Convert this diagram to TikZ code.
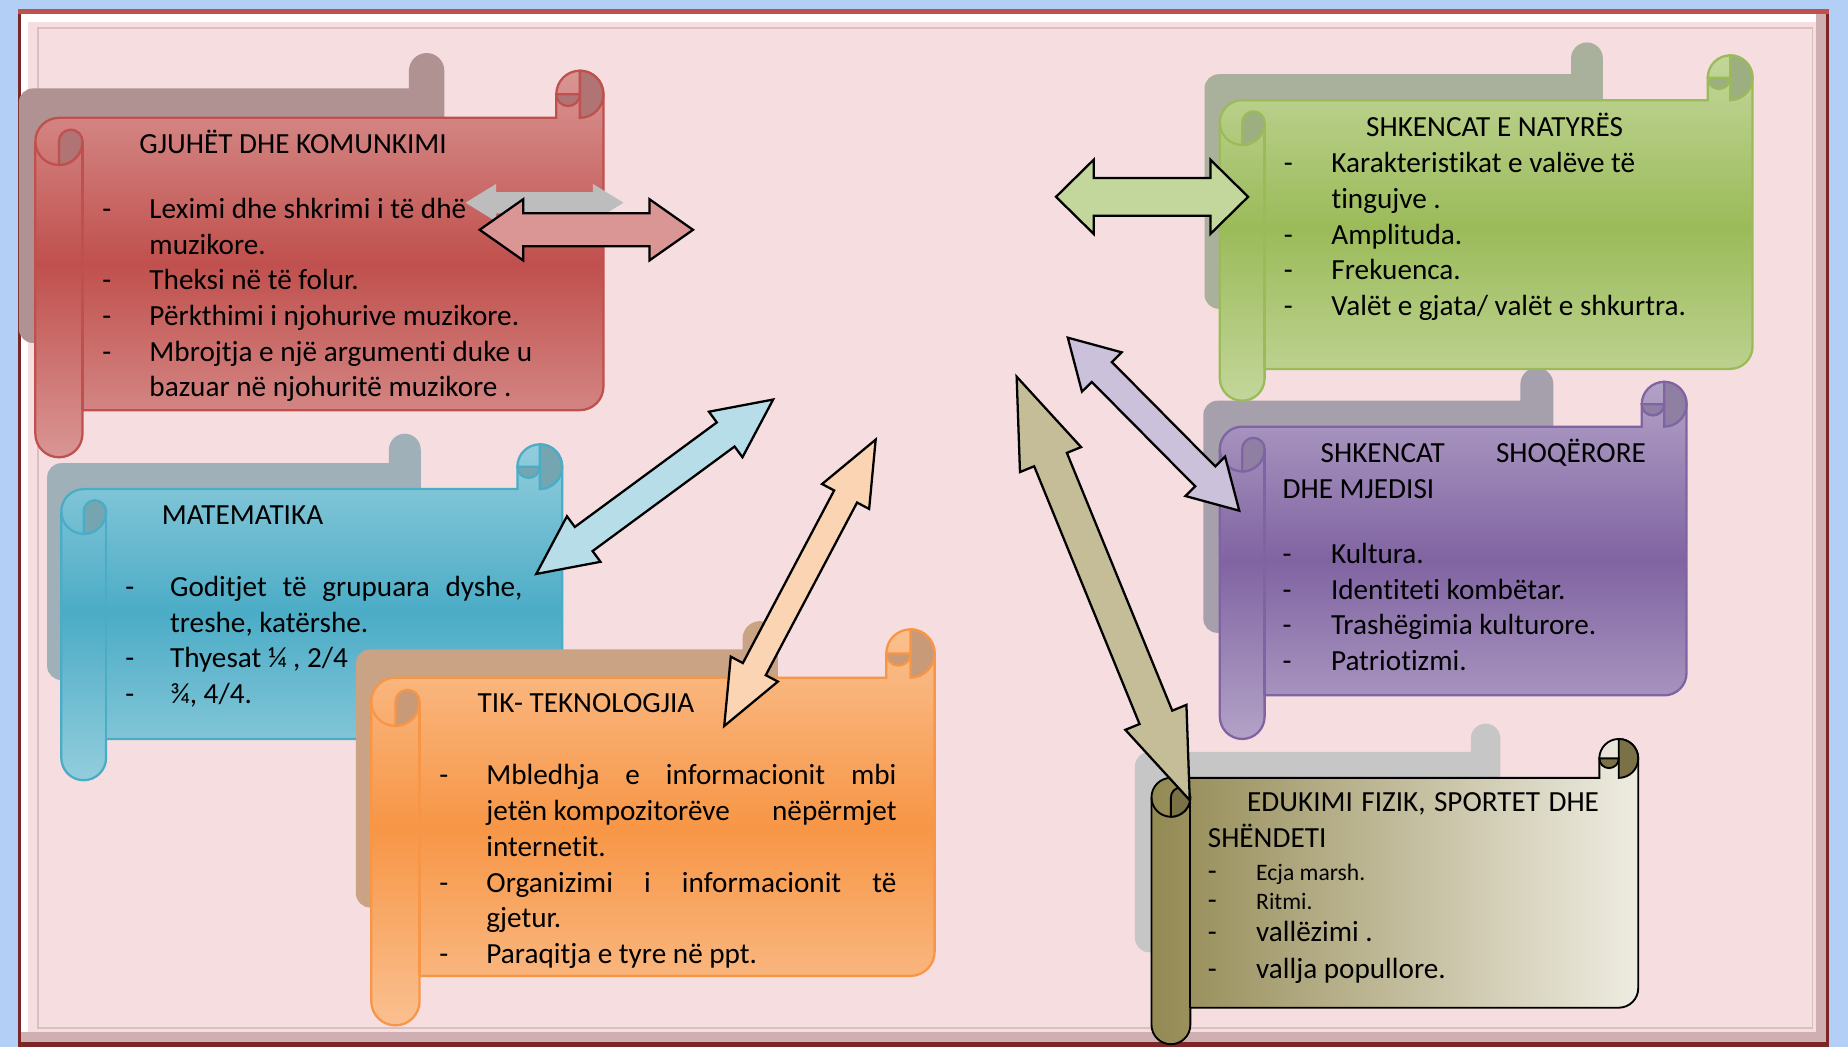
\documentclass[tikz,border=0pt]{standalone}
\usepackage{fontspec}
\setmainfont{Carlito}[Ligatures={NoCommon,NoContextual}]
\usetikzlibrary{calc}

\definecolor{glowblue}{HTML}{B3CFF5}
\definecolor{bgpink}{HTML}{F5DDE0}
\definecolor{framedark}{HTML}{7B2727}
\definecolor{framered}{HTML}{C0504D}
\definecolor{innerline}{HTML}{D9BFBF}
\definecolor{bevelgray}{HTML}{CFAFB2}
\definecolor{redline}{HTML}{C0504D}
\definecolor{redlight}{HTML}{D99694}
\definecolor{redcurl}{HTML}{B07474}
\definecolor{redshade}{HTML}{B09292}
\definecolor{blueline}{HTML}{4BACC6}
\definecolor{bluelight}{HTML}{93CDDD}
\definecolor{bluecurl}{HTML}{74A5B0}
\definecolor{blueshade}{HTML}{9FB0B8}
\definecolor{orangeline}{HTML}{F79646}
\definecolor{orangelight}{HTML}{FAC090}
\definecolor{orangecurl}{HTML}{C89A78}
\definecolor{orangeshade}{HTML}{C9A384}
\definecolor{greenline}{HTML}{9BBB59}
\definecolor{greenlight}{HTML}{C3D69B}
\definecolor{greencurl}{HTML}{9DAF80}
\definecolor{greenshade}{HTML}{A9B19C}
\definecolor{purpleline}{HTML}{8064A2}
\definecolor{purplelight}{HTML}{B3A2C7}
\definecolor{purplecurl}{HTML}{8F80A3}
\definecolor{purpleshade}{HTML}{A6A0AC}
\definecolor{olivedark}{HTML}{938953}
\definecolor{olivelight}{HTML}{EEECE1}
\definecolor{olivecurl}{HTML}{7A7246}
\definecolor{oliveshade}{HTML}{C6C6C6}
\definecolor{arrowred}{HTML}{D99694}
\definecolor{arrowgreen}{HTML}{C3D69B}
\definecolor{arrowblue}{HTML}{B7DEE8}
\definecolor{arrowpeach}{HTML}{FBD4B4}
\definecolor{arrowlilac}{HTML}{CCC1DA}
\definecolor{arrowolive}{HTML}{C4BD97}
\definecolor{arrowshade}{HTML}{BDBDBD}

\newcommand\smallfont{\fontsize{11.4}{14}\selectfont}

% scroll: style prefix, left, top, right, body bottom, tube bottom, tube width
\newcommand\drawscroll[7]{%
  \pgfmathsetmacro\scrr{#7/2}
  \shade[#1 body] (#4-#7,#3) -- (#2+\scrr,#3) arc[start angle=270,end angle=180,radius=\scrr]
    -- (#2,#6-\scrr) arc[start angle=180,end angle=0,radius=\scrr] -- (#2+#7,#5)
    -- (#4-\scrr,#5) arc[start angle=90,end angle=0,radius=\scrr]
    -- (#4,#3-\scrr) arc[start angle=0,end angle=-180,radius=\scrr] -- cycle;
  \draw[#1 line] (#2+#7,#3+\scrr) -- (#2+#7,#5);
  \draw[#1 line] (#2,#3+\scrr) arc[start angle=180,end angle=0,radius=\scrr];
  \filldraw[#1 curl] (#2+\scrr,#3+#7) arc[start angle=90,end angle=0,radius=\scrr]
    arc[start angle=0,end angle=-180,radius=\scrr/2] -- cycle;
  \filldraw[#1 curl] (#4-\scrr,#3-#7) arc[start angle=-90,end angle=90,radius=\scrr] -- cycle;
  \filldraw[#1 curl] (#4-\scrr,#3-\scrr) arc[start angle=0,end angle=180,radius=\scrr/2] -- cycle;
}

% shadow: colour, left, top, right, bottom, tab left, tab top
\newcommand\drawshadow[7]{%
  \pgfmathsetmacro\shdr{(#4-#6)/2}
  \fill[#1] (#6,#7+\shdr) arc[start angle=180,end angle=360,radius=\shdr] -- (#4,#5)
    -- (#2+12,#5) arc[start angle=90,end angle=180,radius=12]
    -- (#2,#3+12) arc[start angle=180,end angle=270,radius=12] -- (#6,#3) -- cycle;
}

% double block arrow: style, tip, tip, shaft half width, head half width, head length
\newcommand\dblarrow[6]{%
  \coordinate (da-p) at ($(#2)!#6*0.02cm!(#3)$);
  \coordinate (da-q) at ($(#3)!#6*0.02cm!(#2)$);
  \path[#1] (#2) -- ($(da-p)!#5*0.02cm!90:(#3)$) -- ($(da-p)!#4*0.02cm!90:(#3)$)
    -- ($(da-q)!#4*0.02cm!-90:(#2)$) -- ($(da-q)!#5*0.02cm!-90:(#2)$) -- (#3)
    -- ($(da-q)!#5*0.02cm!90:(#2)$) -- ($(da-q)!#4*0.02cm!90:(#2)$)
    -- ($(da-p)!#4*0.02cm!-90:(#3)$) -- ($(da-p)!#5*0.02cm!-90:(#3)$) -- cycle;
}

\tikzset{
  txt/.style={inner sep=0pt, anchor=base west, font=\fontsize{14.1}{17.25}\selectfont},
  red body/.style={draw=redline, line width=1.1pt, top color=redlight, bottom color=redlight, middle color=redline},
  red line/.style={draw=redline, line width=1.1pt},
  red curl/.style={fill=redcurl, draw=redline, line width=1.1pt},
  blue body/.style={draw=blueline, line width=1.1pt, top color=bluelight, bottom color=bluelight, middle color=blueline},
  blue line/.style={draw=blueline, line width=1.1pt},
  blue curl/.style={fill=bluecurl, draw=blueline, line width=1.1pt},
  orange body/.style={draw=orangeline, line width=1.1pt, top color=orangelight, bottom color=orangelight, middle color=orangeline},
  orange line/.style={draw=orangeline, line width=1.1pt},
  orange curl/.style={fill=orangecurl, draw=orangeline, line width=1.1pt},
  green body/.style={draw=greenline, line width=1.1pt, top color=greenlight, bottom color=greenlight, middle color=greenline},
  green line/.style={draw=greenline, line width=1.1pt},
  green curl/.style={fill=greencurl, draw=greenline, line width=1.1pt},
  purple body/.style={draw=purpleline, line width=1.1pt, top color=purplelight, bottom color=purplelight, middle color=purpleline},
  purple line/.style={draw=purpleline, line width=1.1pt},
  purple curl/.style={fill=purplecurl, draw=purpleline, line width=1.1pt},
  olive body/.style={draw=black, line width=0.9pt, left color=olivedark, right color=olivelight},
  olive line/.style={draw=black, line width=0.9pt},
  olive curl/.style={fill=olivecurl, draw=black, line width=0.9pt},
  arrowbox/.style={draw=black, line width=1.1pt, fill=#1},
}

\begin{document}
\begin{tikzpicture}[x=0.02cm, y=-0.02cm]
\useasboundingbox (0,0) rectangle (1568,888);
% frame
\fill[glowblue] (0,0) rectangle (1568,888);
\fill[framedark] (15,8) rectangle (1552,888);
\fill[framered] (15,8) rectangle (1552,12);
\fill[white] (18,12) rectangle (1549,884);
\fill[bevelgray] (18,876) rectangle (1549,884);
\fill[bevelgray] (1541,12) rectangle (1549,884);
\fill[bgpink] (24,19) rectangle (1541,876);
\draw[innerline, line width=0.8pt] (32,24) rectangle (1538,872);

% gjuhet
\drawshadow{redshade}{16}{75}{377}{291}{347}{45}
\drawscroll{red}{30}{100}{512}{348}{388}{40}
\node[txt] (gjuhet-title) at (118,130) {GJUHËT DHE KOMUNKIMI};
\node[txt] (gjuhet-list) at (86.5,185.3) {\begin{tabular}[t]{@{}p{0.8cm}@{}l@{}}
- & Leximi dhe shkrimi i të dhë\\
  & muzikore.\\
- & Theksi në të folur.\\
- & Përkthimi i njohurive muzikore.\\
- & Mbrojtja e një argumenti duke u\\
  & bazuar në njohuritë muzikore .
\end{tabular}};

% matematika
\drawshadow{blueshade}{40}{393}{357}{577}{330}{368}
\drawscroll{blue}{52}{415}{477}{627}{662}{38}
\node[txt] (mat-title) at (137,445) {MATEMATIKA};
\node[txt] (mat-list) at (106,506) {\begin{tabular}[t]{@{}p{0.76cm}@{}l@{}}
- & \makebox[5.98cm][s]{Goditjet të grupuara dyshe,}\\
  & treshe, katërshe.\\
- & Thyesat ¼ , 2/4\\
- & ¾, 4/4.
\end{tabular}};

% tik
\drawshadow{orangeshade}{302}{551}{660}{770}{630}{527}
\drawscroll{orange}{315}{575}{793}{828}{870}{41}
\node[txt] (tik-title) at (405,604.4) {TIK- TEKNOLOGJIA};
\node[txt] (tik-list) at (372.4,666) {\begin{tabular}[t]{@{}p{0.8cm}@{}l@{}}
- & \makebox[6.96cm][s]{Mbledhja e informacionit mbi}\\
  & \makebox[6.96cm][s]{jetën kompozitorëve\hfill nëpërmjet}\\
  & internetit.\\
- & \makebox[6.96cm][s]{Organizimi i informacionit të}\\
  & gjetur.\\
- & Paraqitja e tyre në ppt.
\end{tabular}};

% shoqerore
\drawshadow{purpleshade}{1021}{340}{1318}{537}{1290}{312}
\drawscroll{purple}{1035}{362}{1431}{590}{627}{38}
\node[txt] (shoq-title) at (1120.2,392.6) {\makebox[5.52cm][s]{SHKENCAT\hfill SHOQËRORE}};
\node[txt] (shoq-title2) at (1088,422.8) {DHE MJEDISI};
\node[txt] (shoq-list) at (1088,478) {\begin{tabular}[t]{@{}p{0.82cm}@{}l@{}}
- & Kultura.\\
- & Identiteti kombëtar.\\
- & Trashëgimia kulturore.\\
- & Patriotizmi.
\end{tabular}};

% natyres
\drawshadow{greenshade}{1022}{63}{1360}{262}{1333}{36}
\drawscroll{green}{1035}{85}{1487}{313}{340}{38}
\node[txt] (nat-title) at (1158.8,115.4) {SHKENCAT E NATYRËS};
\node[txt] (nat-list) at (1088.9,146.5) {\begin{tabular}[t]{@{}p{0.81cm}@{}l@{}}
- & Karakteristikat e valëve të\\
  & tingujve .\\
- & Amplituda.\\
- & Frekuenca.\\
- & Valët e gjata/ valët e shkurtra.
\end{tabular}};

% edukimi
\drawshadow{oliveshade}{963}{638}{1273}{808}{1248}{614}
\drawscroll{olive}{977}{660}{1390}{855}{886}{33}
\node[txt] (edu-title) at (1057.9,688.7) {\makebox[5.97cm][s]{EDUKIMI FIZIK, SPORTET DHE}};
\node[txt] (edu-title2) at (1024.5,719.2) {SHËNDETI};
\foreach \n/\y/\t in {1/746.7/{\smallfont Ecja marsh.}, 2/771.5/{\smallfont Ritmi.},
    3/799/{vallëzimi .}, 4/830/{vallja popullore.}}{
  \node[txt] (edu-dash-\n) at (1024.5,\y) {-};
  \node[txt] (edu-item-\n) at (1065.5,\y) {\t};
}

% arrows
\coordinate (gj-shl) at (395,172);
\coordinate (gj-shr) at (529,172);
\coordinate (gj-al) at (407,195);
\coordinate (gj-ar) at (588,195);
\coordinate (nat-al) at (896,167);
\coordinate (nat-ar) at (1059,167);
\coordinate (mat-a) at (455,487);
\coordinate (mat-b) at (656,339);
\coordinate (tik-a) at (614.5,616);
\coordinate (tik-b) at (743,373);
\coordinate (shoq-a) at (906,286.5);
\coordinate (shoq-b) at (1051.5,433.3);
\coordinate (edu-a) at (862.6,319.6);
\coordinate (edu-b) at (1009.5,679);
\dblarrow{fill=arrowshade}{gj-shl}{gj-shr}{9}{16}{26}
\dblarrow{arrowbox=arrowred}{gj-al}{gj-ar}{14}{26}{37}
\dblarrow{arrowbox=arrowgreen}{nat-al}{nat-ar}{16}{31.5}{32}
\dblarrow{arrowbox=arrowblue}{mat-a}{mat-b}{12.7}{24}{50}
\dblarrow{arrowbox=arrowpeach}{tik-a}{tik-b}{11}{22.6}{54.6}
\dblarrow{arrowbox=arrowlilac}{shoq-a}{shoq-b}{12}{23.7}{41}
\dblarrow{arrowbox=arrowolive}{edu-a}{edu-b}{15}{28}{76}
\end{tikzpicture}
\end{document}
